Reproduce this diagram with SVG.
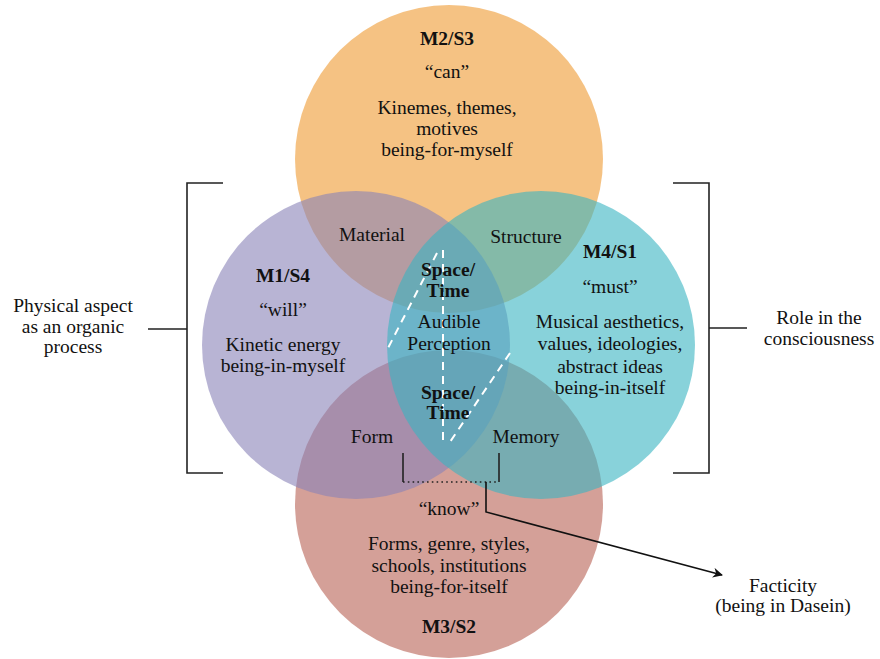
<svg xmlns="http://www.w3.org/2000/svg" width="880" height="659" viewBox="0 0 880 659">
<defs>
<style>
text{font-family:'Liberation Serif','DejaVu Serif','Times New Roman',Times,serif;font-size:19.5px;fill:#111;text-anchor:middle}
.b{font-weight:bold}
.c{fill-opacity:0.6}
.br{fill:none;stroke:#222;stroke-width:1.6}
.dash{fill:none;stroke:#fff;stroke-width:2;stroke-dasharray:8 6}
</style>
<marker id="ah" viewBox="0 0 10 10" refX="9" refY="5" markerWidth="10" markerHeight="10" markerUnits="userSpaceOnUse" orient="auto">
<path d="M0,0 L10,5 L0,10 L3,5 Z" fill="#111"/>
</marker>
</defs>
<rect width="880" height="659" fill="#fff"/>
<g id="circle-m2s3"><circle class="c" cx="449" cy="159" r="154" fill="#EE9930"/></g>
<g id="circle-m3s2"><circle class="c" cx="449" cy="504" r="154" fill="#B76153"/></g>
<g id="circle-m1s4"><circle class="c" cx="356" cy="345" r="154" fill="#8982B7"/></g>
<g id="circle-m4s1"><circle class="c" cx="541" cy="345" r="154" fill="#39B4C1"/></g>
<g id="connectors">
<line class="dash" x1="443" y1="250" x2="443" y2="442"/>
<line class="dash" x1="437" y1="253" x2="387" y2="350"/>
<line class="dash" x1="510" y1="353" x2="450" y2="442"/>
<path class="br" d="M223,183 H187 V473 H223 M187,329 H148"/>
<path class="br" d="M673,183 H709 V473 H673 M709,328 H747"/>
<path class="br" d="M403,453 V482 M499,453 V482"/>
<line x1="403" y1="482" x2="499" y2="482" stroke="#222" stroke-width="1.6" stroke-dasharray="1.6 3.2"/>
<path d="M486,482 V512 L722,575" fill="none" stroke="#111" stroke-width="1.6" marker-end="url(#ah)"/>
</g>
<g id="label-m2s3">
<text class="b" x="447" y="45">M2/S3</text>
<text x="447" y="78">“can”</text>
<text x="447" y="114">Kinemes, themes,</text>
<text x="447" y="135">motives</text>
<text x="447" y="156">being-for-myself</text>
</g>
<g id="label-m1s4">
<text class="b" x="283" y="282">M1/S4</text>
<text x="283" y="316">“will”</text>
<text x="283" y="351">Kinetic energy</text>
<text x="283" y="372">being-in-myself</text>
</g>
<g id="label-m4s1">
<text class="b" x="610" y="258">M4/S1</text>
<text x="610" y="293">“must”</text>
<text x="610" y="328">Musical aesthetics,</text>
<text x="610" y="350">values, ideologies,</text>
<text x="610" y="373">abstract ideas</text>
<text x="610" y="394">being-in-itself</text>
</g>
<g id="label-m3s2">
<text x="449" y="515">“know”</text>
<text x="449" y="550">Forms, genre, styles,</text>
<text x="449" y="572">schools, institutions</text>
<text x="449" y="593">being-for-itself</text>
<text class="b" x="449" y="633">M3/S2</text>
</g>
<g id="label-material"><text x="372" y="241">Material</text></g>
<g id="label-structure"><text x="526" y="243">Structure</text></g>
<g id="label-form"><text x="372" y="443">Form</text></g>
<g id="label-memory"><text x="526" y="443">Memory</text></g>
<g id="label-spacetime-top">
<text class="b" x="448" y="276">Space/</text>
<text class="b" x="448" y="297">Time</text>
</g>
<g id="label-audible">
<text x="449" y="328">Audible</text>
<text x="449" y="350">Perception</text>
</g>
<g id="label-spacetime-bottom">
<text class="b" x="448" y="399">Space/</text>
<text class="b" x="448" y="419">Time</text>
</g>
<g id="label-physical">
<text x="73" y="312">Physical aspect</text>
<text x="73" y="333">as an organic</text>
<text x="73" y="353">process</text>
</g>
<g id="label-role">
<text x="819" y="324">Role in the</text>
<text x="819" y="345">consciousness</text>
</g>
<g id="label-facticity">
<text x="783" y="592">Facticity</text>
<text x="783" y="612">(being in Dasein)</text>
</g>
</svg>
